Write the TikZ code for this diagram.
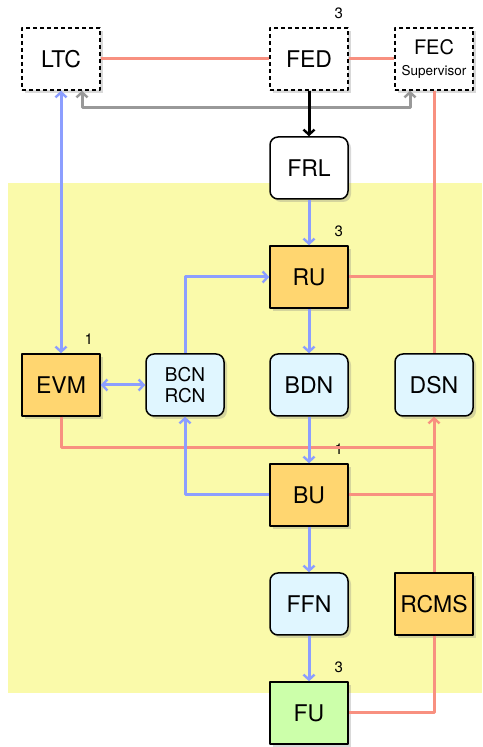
\documentclass[tikz,border=0pt]{standalone}
\usepackage{fontspec}
\setmainfont{TeX Gyre Heros}
\usepackage{xcolor}
\usetikzlibrary{arrows.meta,shadows,calc}
\definecolor{boxorange}{RGB}{255,214,112}
\definecolor{boxblue}{RGB}{224,246,255}
\definecolor{boxgreen}{RGB}{204,255,170}
\definecolor{zone}{RGB}{250,250,170}
\definecolor{linkblue}{RGB}{140,158,255}
\definecolor{linkred}{RGB}{248,144,128}
\definecolor{linkgray}{RGB}{153,153,153}
\tikzset{
  every picture/.style={line join=round, >={Straight Barb[length=5pt,width=11pt,line width=2.4pt]}},
  unit/.style={draw, line width=1.5pt, minimum width=78pt, minimum height=62pt, inner sep=0pt,
    font=\fontsize{23}{26}\selectfont,
    drop shadow={opacity=0.3, shadow xshift=3pt, shadow yshift=-3pt}},
  ext/.style={unit, fill=white, dash pattern=on 4pt off 3pt},
  app/.style={unit, fill=boxorange},
  net/.style={unit, fill=boxblue, rounded corners=8pt},
  filter/.style={unit, fill=boxgreen},
  count/.style={font=\fontsize{15}{17}\selectfont, inner sep=0pt},
  blue link/.style={draw=linkblue, line width=3pt},
  red link/.style={draw=linkred, line width=3pt},
  gray link/.style={draw=linkgray, line width=3pt},
}

\begin{document}
\begin{tikzpicture}[x=10pt,y=10pt]
\useasboundingbox (0,0) rectangle (48.2,74.7);
\fill[zone] (0.8,5.4) rectangle (48.2,56.4);
% units
\node[ext] (ltc) at (6.1,68.8) {LTC};
\node[ext] (fed) at (30.9,68.8) {FED};
\node[ext, align=center] (fec) at (43.4,68.8)
  {{\fontsize{20}{20}\selectfont FEC}\\[-5pt]{\fontsize{13.5}{13.5}\selectfont Supervisor}};
\node[unit, fill=white, rounded corners=8pt] (frl) at (30.9,57.9) {FRL};
\node[app] (ru) at (30.9,47.0) {RU};
\node[app] (evm) at (6.1,36.2) {EVM};
\node[net, align=center, font=\fontsize{19}{21.5}\selectfont] (bcn) at (18.5,36.2) {BCN\\RCN};
\node[net] (bdn) at (30.9,36.2) {BDN};
\node[net] (dsn) at (43.4,36.2) {DSN};
\node[app] (bu) at (30.9,25.2) {BU};
\node[net] (ffn) at (30.9,14.3) {FFN};
\node[app] (rcms) at (43.4,14.3) {RCMS};
\node[filter] (fu) at (30.9,3.4) {FU};
% multiplicities
\node[count] at ($(fed.north east)+(-1.0,1.4)$) {3};
\node[count] at ($(ru.north east)+(-1.0,1.4)$) {3};
\node[count] at ($(evm.north east)+(-1.2,1.4)$) {1};
\node[count] at ($(bu.north east)+(-1.0,1.4)$) {1};
\node[count] at ($(fu.north east)+(-1.0,1.4)$) {3};
% control links
\coordinate (redbus) at (0,29.9);
\coordinate (graybus) at (0,63.9);
\draw[red link] (ltc) -- (fed);
\draw[red link] (fed) -- (fec);
\draw[red link] (fec.south) -- (dsn.north);
\draw[red link] (ru.east) -- (ru -| dsn);
\draw[red link] (evm.south) |- (redbus -| dsn);
\draw[red link, ->] (rcms.north) -- (dsn.south);
\draw[red link] (bu.east) -- (bu -| dsn);
\draw[red link] (rcms.south) |- (fu.east);
\draw[gray link, <->] ([xshift=21pt]ltc.south) -- ([xshift=21pt]ltc.south |- graybus)
  -| ([xshift=-24pt]fec.south);
% data links
\draw[line width=3pt, ->] (fed) -- (frl);
\draw[blue link, <->] (ltc) -- (evm);
\draw[blue link, ->] (frl) -- (ru);
\draw[blue link, ->] (ru) -- (bdn);
\draw[blue link, ->] (bdn) -- (bu);
\draw[blue link, ->] (bu) -- (ffn);
\draw[blue link, ->] (ffn) -- (fu);
\draw[blue link, <->] (evm) -- (bcn);
\draw[blue link, ->] (bcn.north) |- (ru.west);
\draw[blue link, ->] (bu.west) -| (bcn.south);
\end{tikzpicture}
\end{document}
